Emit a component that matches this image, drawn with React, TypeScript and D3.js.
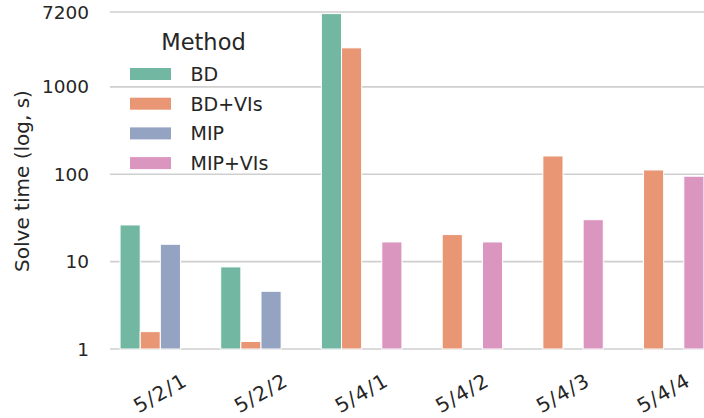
import React from "react";
import * as d3 from "d3";

const categories = ["5/2/1", "5/2/2", "5/4/1", "5/4/2", "5/4/3", "5/4/4"];
const methods = ["BD", "BD+VIs", "MIP", "MIP+VIs"];
const bdValues: (number | null)[] = [26.3, 8.7, 6900, null, null, null];
const bdVIsValues: (number | null)[] = [1.58, 1.22, 2800, 20.4, 162, 112];
const mipValues: (number | null)[] = [15.8, 4.58, null, null, null, null];
const mipVIsValues: (number | null)[] = [null, null, 16.8, 16.8, 30.2, 95];
const yTicks = [1, 10, 100, 1000, 7200];
const colors = ["#71b7a1", "#e99675", "#95a3c3", "#db96c0"];

const W = 704;
const H = 418;
const FONT = "'DejaVu Sans', sans-serif";

export default function App() {
  const series = [bdValues, bdVIsValues, mipValues, mipVIsValues];
  const x = d3.scaleBand<string>().domain(categories).range([110, 714]).paddingInner(0).paddingOuter(0);
  const inner = d3
    .scaleBand<string>()
    .domain(methods)
    .range([x.bandwidth() * 0.1, x.bandwidth() * 0.9]);
  const y = d3.scaleLog().domain([1, 7200]).range([349, 12]);

  return (
    <svg
      width={W}
      height={H}
      style={{ position: "absolute", left: 0, top: 0, overflow: "hidden", background: "#fff" }}
      fontFamily={FONT}
    >
      <rect x={0} y={0} width={W} height={H} fill="#fff" />
      {yTicks.map((t) => (
        <g key={t}>
          <line x1={110} x2={714} y1={y(t)} y2={y(t)} stroke="#cfcfcf" strokeWidth={1.6} />
          <text x={89} y={y(t)} textAnchor="end" dominantBaseline="central" fontSize={18.5} fill="#262626">
            {t}
          </text>
        </g>
      ))}
      {series.map((vals, si) =>
        vals.map((v, ci) =>
          v == null ? null : (
            <rect
              key={`${si}-${ci}`}
              x={(x(categories[ci]) as number) + (inner(methods[si]) as number)}
              width={inner.bandwidth()}
              y={y(v)}
              height={y(1) - y(v)}
              fill={colors[si]}
              stroke="#fff"
              strokeWidth={1}
            />
          )
        )
      )}
      {categories.map((c) => {
        const cx = (x(c) as number) + x.bandwidth() / 2;
        return (
          <text
            key={c}
            transform={`translate(${cx},393) rotate(-30)`}
            textAnchor="middle"
            dominantBaseline="central"
            fontSize={20}
            letterSpacing={1.2}
            fill="#262626"
          >
            {c}
          </text>
        );
      })}
      <text
        transform="translate(22,181) rotate(-90)"
        textAnchor="middle"
        dominantBaseline="central"
        fontSize={20}
        fill="#262626"
      >
        Solve time (log, s)
      </text>
      <text x={203.5} y={42} textAnchor="middle" dominantBaseline="central" fontSize={22.5} fill="#262626">
        Method
      </text>
      {methods.map((m, i) => (
        <g key={m}>
          <rect x={130} y={74 + i * 29.7 - 6} width={41} height={12} fill={colors[i]} />
          <text x={190.5} y={74 + i * 29.7} dominantBaseline="central" fontSize={19} fill="#262626">
            {m}
          </text>
        </g>
      ))}
    </svg>
  );
}
